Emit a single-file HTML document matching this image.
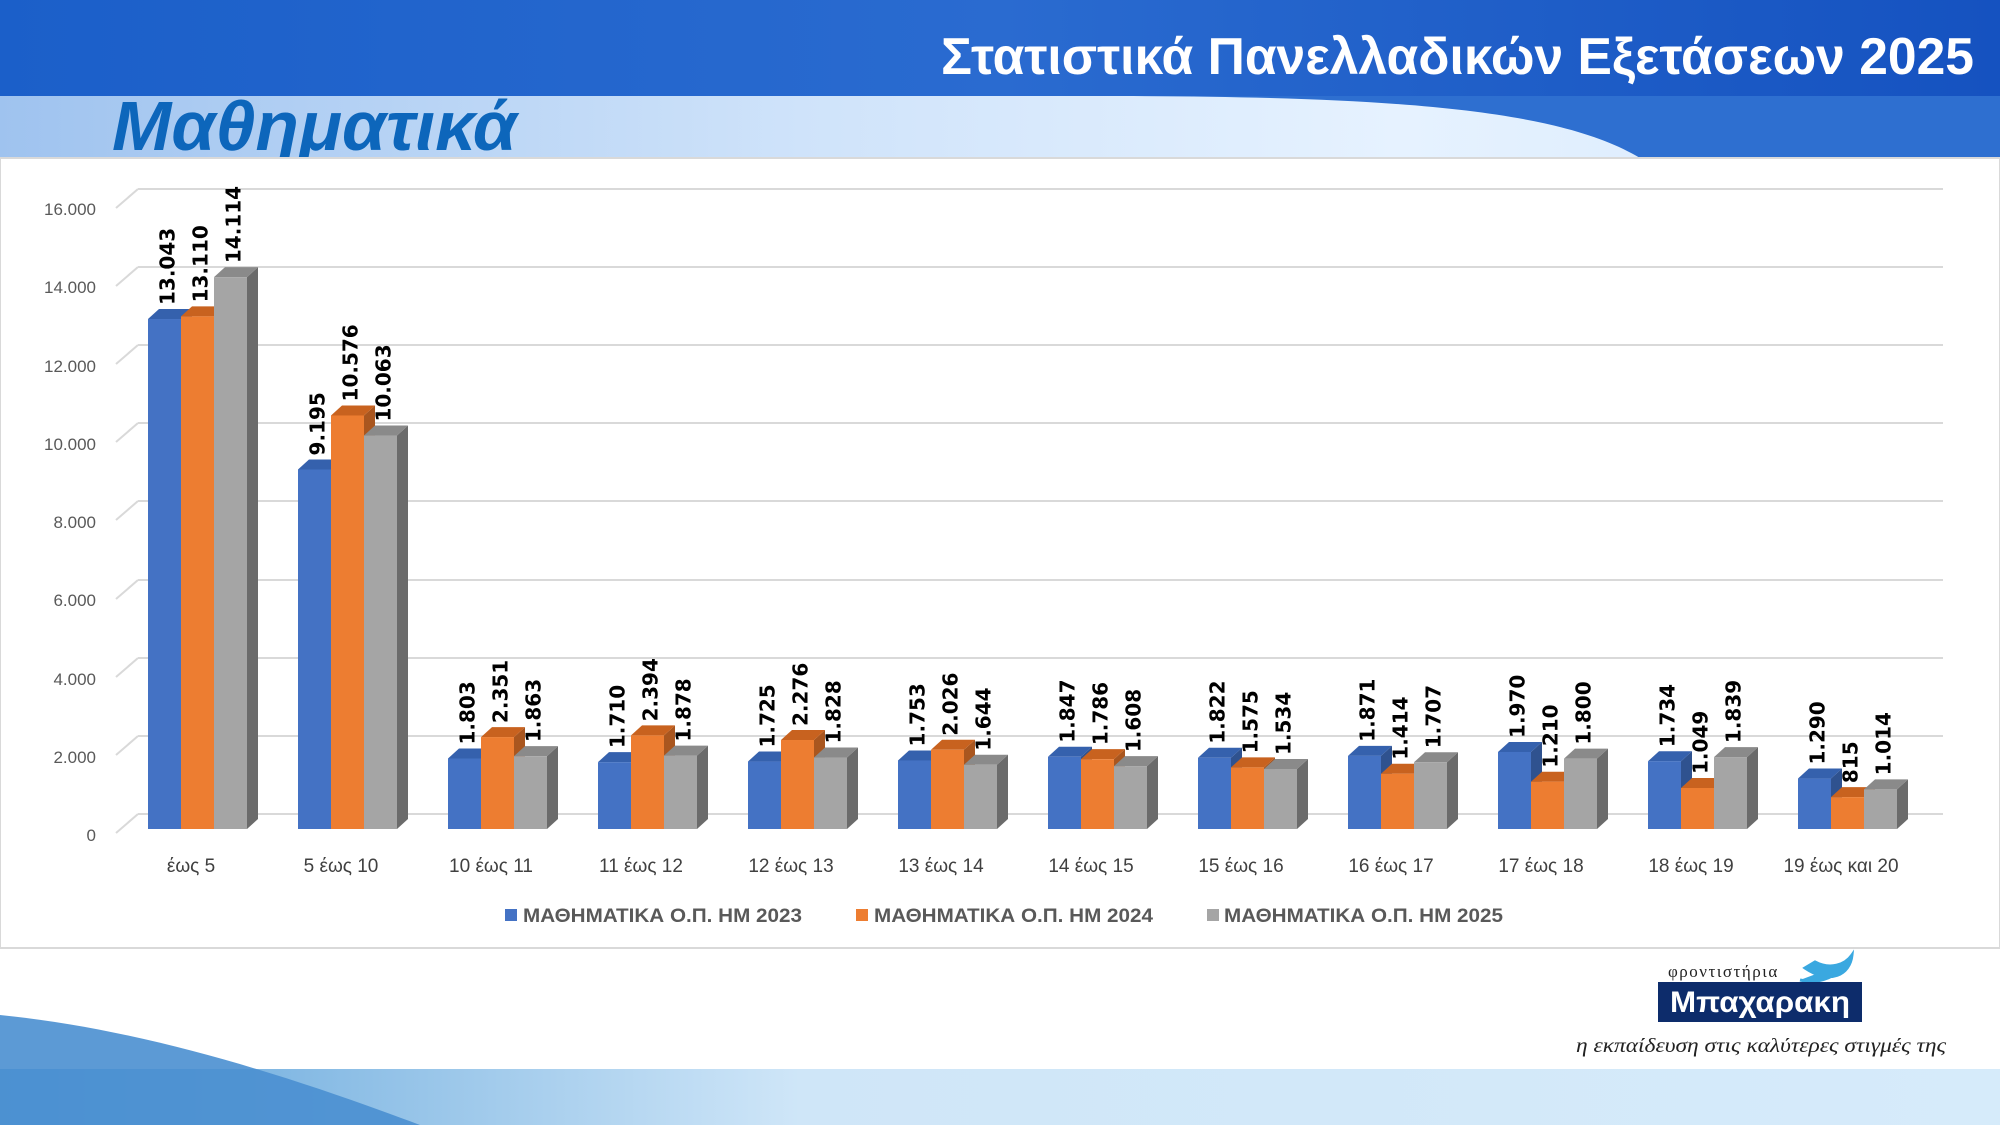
<!DOCTYPE html>
<html><head><meta charset="utf-8"><style>
html,body{margin:0;padding:0;width:2000px;height:1125px;overflow:hidden;background:#fff}
svg{display:block}
</style></head><body>
<svg width="2000" height="1125" viewBox="0 0 2000 1125" xmlns="http://www.w3.org/2000/svg" font-family="Liberation Sans, DejaVu Sans, sans-serif">
<defs>
<linearGradient id="hdr" x1="0" y1="0" x2="1" y2="0">
<stop offset="0" stop-color="#1b5fc9"/><stop offset="0.5" stop-color="#2a6bd0"/><stop offset="1" stop-color="#1552c0"/></linearGradient>
<linearGradient id="hdr2" x1="0" y1="0" x2="1" y2="0">
<stop offset="0" stop-color="#9fc3ef"/><stop offset="0.4" stop-color="#cfe3fa"/><stop offset="0.7" stop-color="#e6f2ff"/><stop offset="1" stop-color="#d5e8fb"/></linearGradient>
<linearGradient id="bot" x1="0" y1="0" x2="1" y2="0">
<stop offset="0" stop-color="#5aa0d8"/><stop offset="0.4" stop-color="#cfe6f8"/><stop offset="1" stop-color="#d6ebfa"/></linearGradient>
</defs>
<rect x="0" y="0" width="2000" height="96" fill="url(#hdr)"/>
<rect x="0" y="96" width="2000" height="62" fill="url(#hdr2)"/>
<path d="M1100 96 C1400 96 1560 110 1640 158 L2000 158 L2000 96 Z" fill="#2e6fd0"/>
<text x="941" y="74" font-size="52" font-weight="bold" fill="#fff" textLength="1033" lengthAdjust="spacingAndGlyphs">Στατιστικά Πανελλαδικών Εξετάσεων 2025</text>
<text x="112" y="150" font-size="70" font-weight="bold" font-style="italic" fill="#0d66bb" textLength="405" lengthAdjust="spacingAndGlyphs">Μαθηματικά</text>
<rect x="0" y="158" width="2000" height="790" fill="#fff" stroke="#d9d9d9" stroke-width="2"/>
<rect x="0" y="1069" width="2000" height="56" fill="url(#bot)"/>
<path d="M0 1015 C150 1030 300 1080 420 1125 L0 1125 Z" fill="#4a8fd0" opacity="0.9"/>
<rect x="1560" y="950" width="440" height="119" fill="#fff"/>
<g stroke="#d9d9d9" stroke-width="2" fill="none">
<line x1="138" y1="814" x2="1943" y2="814"/><line x1="138" y1="736" x2="1943" y2="736"/>
<line x1="138" y1="658" x2="1943" y2="658"/><line x1="138" y1="580" x2="1943" y2="580"/>
<line x1="138" y1="501" x2="1943" y2="501"/><line x1="138" y1="423" x2="1943" y2="423"/>
<line x1="138" y1="345" x2="1943" y2="345"/><line x1="138" y1="267" x2="1943" y2="267"/>
<line x1="138" y1="189" x2="1943" y2="189"/>
<path d="M138 814 L116 833 M138 736 L116 755 M138 658 L116 677 M138 580 L116 599 M138 501 L116 520 M138 423 L116 442 M138 345 L116 364 M138 267 L116 286 M138 189 L116 208"/>
</g>
<g font-size="17" fill="#595959" text-anchor="end">
<text x="96" y="841">0</text><text x="96" y="763">2.000</text><text x="96" y="685">4.000</text>
<text x="96" y="606">6.000</text><text x="96" y="528">8.000</text><text x="96" y="450">10.000</text>
<text x="96" y="372">12.000</text><text x="96" y="293">14.000</text><text x="96" y="215">16.000</text>
</g>
<g id="bars"></g>
<g font-size="19" fill="#404040" text-anchor="middle" id="cats"></g>
<g font-size="19" font-weight="bold" fill="#595959">
<rect x="505" y="909" width="12" height="12" fill="#4472C4"/>
<text x="523" y="922" textLength="279" lengthAdjust="spacingAndGlyphs">ΜΑΘΗΜΑΤΙΚΑ Ο.Π. ΗΜ 2023</text>
<rect x="856" y="909" width="12" height="12" fill="#ED7D31"/>
<text x="874" y="922" textLength="279" lengthAdjust="spacingAndGlyphs">ΜΑΘΗΜΑΤΙΚΑ Ο.Π. ΗΜ 2024</text>
<rect x="1207" y="909" width="12" height="12" fill="#A5A5A5"/>
<text x="1224" y="922" textLength="279" lengthAdjust="spacingAndGlyphs">ΜΑΘΗΜΑΤΙΚΑ Ο.Π. ΗΜ 2025</text>
</g>
<text x="1668" y="977" font-size="17" fill="#222" font-family="Liberation Serif, serif" letter-spacing="1.5">φροντιστήρια</text>
<path d="M1805 968 C1830 985 1850 975 1852 955 C1845 965 1830 970 1815 962 Z M1800 980 C1820 985 1840 975 1848 962" fill="#3aa8e0" stroke="#3aa8e0" stroke-width="3"/>
<rect x="1658" y="982" width="204" height="40" fill="#0d2c6b"/>
<text x="1760" y="1012" font-size="30" font-weight="bold" fill="#fff" text-anchor="middle" textLength="180" lengthAdjust="spacingAndGlyphs">Μπαχαρακη</text>
<text x="1576" y="1052" font-size="20" font-style="italic" fill="#222" font-family="Liberation Serif, serif" textLength="370" lengthAdjust="spacingAndGlyphs">η εκπαίδευση στις καλύτερες στιγμές της</text>
<script>
(function(){
var data=[[13043,13110,14114],[9195,10576,10063],[1803,2351,1863],[1710,2394,1878],[1725,2276,1828],[1753,2026,1644],[1847,1786,1608],[1822,1575,1534],[1871,1414,1707],[1970,1210,1800],[1734,1049,1839],[1290,815,1014]];
var cats=["έως 5","5 έως 10","10 έως 11","11 έως 12","12 έως 13","13 έως 14","14 έως 15","15 έως 16","16 έως 17","17 έως 18","18 έως 19","19 έως και 20"];
var front=["#4472C4","#ED7D31","#A5A5A5"],side=["#2f528f","#a9561f","#6b6b6b"],topc=["#3561ad","#c8621f","#8a8a8a"];
var ns="http://www.w3.org/2000/svg",g=document.getElementById("bars"),cg=document.getElementById("cats");
function el(t,a,p){var e=document.createElementNS(ns,t);for(var k in a)e.setAttribute(k,a[k]);(p||g).appendChild(e);return e;}
function fmt(v){var s=String(v);return s.length>3?s.slice(0,s.length-3)+"."+s.slice(-3):s;}
var labels=[];
for(var i=0;i<12;i++){
 var x0=148+150*i;
 for(var j=0;j<3;j++){
  var v=data[i][j],h=v*0.0391,x=x0+33*j,w=33,yb=829,yt=yb-h,dx=11,dy=10;
  el("polygon",{points:(x+w)+","+yt+" "+(x+w+dx)+","+(yt-dy)+" "+(x+w+dx)+","+(yb-dy)+" "+(x+w)+","+yb,fill:side[j]});
  el("polygon",{points:x+","+yt+" "+(x+dx)+","+(yt-dy)+" "+(x+w+dx)+","+(yt-dy)+" "+(x+w)+","+yt,fill:topc[j]});
  el("rect",{x:x,y:yt,width:w,height:h,fill:front[j]});
  labels.push([x+w/2+10,yt-14,fmt(v)]);
 }
 var t=el("text",{x:x0+43,y:872},cg);t.textContent=cats[i];
}
labels.forEach(function(l){var t=el("text",{x:0,y:0,transform:"translate("+l[0]+","+l[1]+") rotate(-90)","font-size":"20","font-weight":"bold","font-family":"DejaVu Sans, sans-serif",fill:"#000"});t.textContent=l[2];});
})();
</script>
</svg>
</body></html>
